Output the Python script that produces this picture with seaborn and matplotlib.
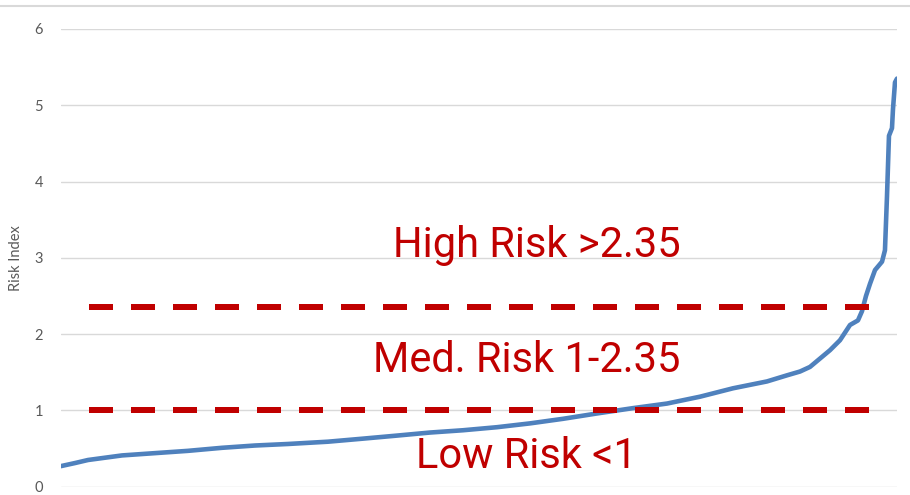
import matplotlib
matplotlib.use("Agg")
import matplotlib.pyplot as plt
from matplotlib.lines import Line2D
import numpy as np
import pandas as pd
import seaborn as sns

# Sorted risk index per sample, positioned by percentile rank (0-100)
rank = [0, 1.67, 3.23, 5.26, 7.30, 11.24, 15.19, 19.26, 23.21, 27.15,
        31.94, 36.12, 40.19, 44.14, 48.09, 52.15, 56.10, 60.05, 64.11,
        68.42, 72.49, 76.44, 80.38, 84.45, 86.84, 88.40, 89.59, 90.79,
        91.99, 93.18, 94.38, 95.33, 95.81, 96.29, 96.77, 97.37, 98.21,
        98.56, 98.80, 99.04, 99.40, 99.52, 99.76, 100]
risk = [0.27, 0.31, 0.35, 0.38, 0.41, 0.44, 0.47, 0.51, 0.54, 0.56,
        0.59, 0.63, 0.67, 0.71, 0.74, 0.78, 0.83, 0.89, 0.96,
        1.03, 1.09, 1.18, 1.29, 1.38, 1.46, 1.51, 1.57, 1.68,
        1.79, 1.92, 2.12, 2.18, 2.30, 2.50, 2.66, 2.84, 2.95,
        3.10, 3.80, 4.60, 4.70, 4.95, 5.30, 5.35]

# Risk band thresholds and their labels
thresholds = [1.0, 2.35]
band_labels = ["Low Risk <1", "Med. Risk 1-2.35", "High Risk >2.35"]
yticks = [0, 1, 2, 3, 4, 5, 6]

df = pd.DataFrame({"rank": rank, "risk": risk})

sns.set_theme(style="white")
plt.rcParams["font.family"] = ["Lato", "DejaVu Sans"]

fig = plt.figure(figsize=(9.10, 4.95), dpi=100)
ax = fig.add_axes([61 / 910, 1 - 486.7 / 495, (897 - 61) / 910, (486.7 - 29) / 495])

grid_col = "#D9D9D9"
red = "#C00000"

# horizontal gridlines
for t in yticks:
    ax.axhline(t, color=grid_col, lw=1.0, zorder=0)

sns.lineplot(data=df, x="rank", y="risk", ax=ax, color="#4F81BD",
             lw=3.3, zorder=3, estimator=None, sort=True)

# dashed threshold lines
for th in thresholds:
    ax.plot([3.35, 97.85], [th, th], color=red, lw=4.32,
            linestyle=(0, (4, 3)), dash_capstyle="butt", zorder=4)

ax.set_xlim(0, 100)
ax.set_ylim(0, 6)
ax.set_yticks(yticks)
ax.set_yticklabels([str(t) for t in yticks], fontsize=10.5, color="#595959")
ax.tick_params(axis="y", length=0, pad=13)
ax.set_xticks([])
ax.set_xlabel("")
ax.set_ylabel("Risk Index", fontsize=10.5, color="#595959", labelpad=8)
for s in ax.spines.values():
    s.set_visible(False)

# band annotations
txt_kw = dict(color=red, fontsize=30, ha="center", va="baseline",
              family=["Roboto", "DejaVu Sans"], zorder=5)
ax.text(55.7, 0.241, band_labels[0], **txt_kw)
ax.text(55.7, 1.507, band_labels[1], **txt_kw)
ax.text(56.9, 3.01, band_labels[2], **txt_kw)

# outer chart border at the top
fig.add_artist(Line2D([0, 1], [1 - 6 / 495, 1 - 6 / 495], color=grid_col,
                      lw=1.5, transform=fig.transFigure))

fig.savefig("out.png", dpi=100)
